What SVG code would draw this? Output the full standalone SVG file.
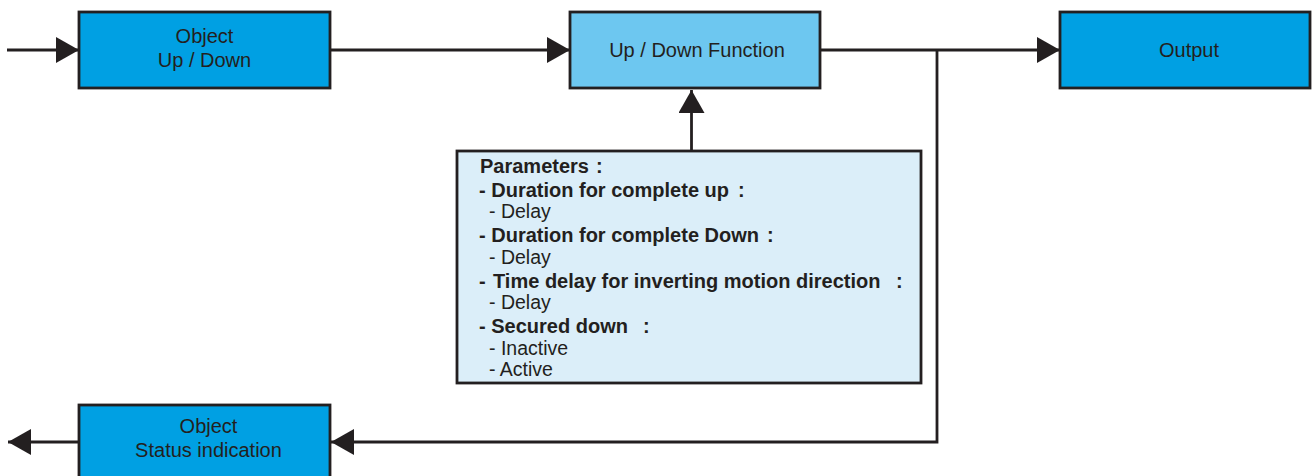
<svg xmlns="http://www.w3.org/2000/svg" width="1314" height="476" viewBox="0 0 1314 476">
<style>
.box{stroke:#231f20;stroke-width:2.8}
.main{fill:#00a0e3}
.func{fill:#6dc7f0}
.param{fill:#dbeef9}
.lbl{font-family:"Liberation Sans",Arial,sans-serif;font-size:20px;fill:#231f20;text-anchor:middle}
.pb{font-family:"Liberation Sans",Arial,sans-serif;font-size:20px;font-weight:bold;fill:#231f20}
.pr{font-family:"Liberation Sans",Arial,sans-serif;font-size:19.5px;fill:#231f20}
.conn{fill:none;stroke:#231f20;stroke-width:2.8;marker-end:url(#arr)}
</style>
<defs>
<marker id="arr" markerUnits="userSpaceOnUse" markerWidth="23" markerHeight="26" refX="23" refY="13" orient="auto" viewBox="0 0 23 26">
<path d="M0,0 L23,13 L0,26 z" fill="#231f20"/>
</marker>
</defs>
<g id="connectors">
<path class="conn" d="M7,50 H79"/>
<path class="conn" d="M330,50 H570"/>
<path class="conn" d="M691.5,151 V90"/>
<path class="conn" d="M820,50 H1060"/>
<path class="conn" d="M937,50 V442 H331"/>
<path class="conn" d="M79,442 H8"/>
</g>
<g id="object-updown">
<rect class="box main" x="79" y="12" width="251" height="76"/>
<text class="lbl" x="204.5" y="42.5">Object</text>
<text class="lbl" x="204.5" y="66.5">Up / Down</text>
</g>
<g id="updown-function">
<rect class="box func" x="570" y="12" width="250" height="76"/>
<text class="lbl" x="697" y="57">Up / Down Function</text>
</g>
<g id="output">
<rect class="box main" x="1060" y="12" width="250" height="76"/>
<text class="lbl" x="1189" y="57">Output</text>
</g>
<g id="parameters">
<rect class="box param" x="457" y="151" width="464" height="232"/>
<text class="pb" x="480" y="173">Parameters<tspan x="596">:</tspan></text>
<text class="pb" x="479" y="197">- Duration for complete up<tspan x="738">:</tspan></text>
<text class="pr" x="489" y="218">- Delay</text>
<text class="pb" x="479" y="242">- Duration for complete Down<tspan x="767">:</tspan></text>
<text class="pr" x="489" y="264">- Delay</text>
<text class="pb" x="479" y="288">-<tspan x="493">Time delay for inverting motion direction</tspan><tspan x="896">:</tspan></text>
<text class="pr" x="489" y="309">- Delay</text>
<text class="pb" x="479" y="333">- Secured down<tspan x="643">:</tspan></text>
<text class="pr" x="489" y="355">- Inactive</text>
<text class="pr" x="489" y="376">- Active</text>
</g>
<g id="object-status">
<rect class="box main" x="79" y="405" width="251" height="80"/>
<text class="lbl" x="208.5" y="432.5">Object</text>
<text class="lbl" x="208.5" y="456.5">Status indication</text>
</g>
</svg>
